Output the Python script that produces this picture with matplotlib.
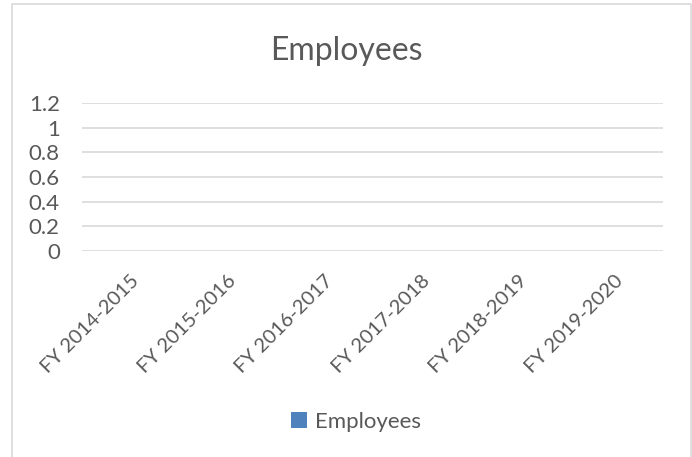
import matplotlib
matplotlib.use("Agg")
import matplotlib.pyplot as plt
from matplotlib.patches import Rectangle

categories = ["FY 2014-2015", "FY 2015-2016", "FY 2016-2017", "FY 2017-2018", "FY 2018-2019", "FY 2019-2020"]
employees = [0, 0, 0, 0, 0, 0]
yticks = [0, 0.2, 0.4, 0.6, 0.8, 1, 1.2]
ytick_labels = ["0", "0.2", "0.4", "0.6", "0.8", "1", "1.2"]
series_name = "Employees"
title = "Employees"

plt.rcParams['font.family'] = ['Lato', 'DejaVu Sans']
text_color = "#595959"
bar_color = "#4F81BD"

W, H = 692, 457
fig = plt.figure(figsize=(W / 100, H / 100), dpi=100)
fig.patch.set_facecolor("white")

# chart border
fig.patches.append(Rectangle((12 / W, -0.05), (691 - 12) / W, (457 - 4) / H + 0.05,
                             transform=fig.transFigure, fill=False,
                             edgecolor="#D9D9D9", linewidth=1.2))

ax = fig.add_axes([82 / W, (H - 251) / H, (663 - 82) / W, (251 - 103) / H])
x = list(range(len(categories)))
bars = ax.bar(x, employees, width=0.6, color=bar_color, label=series_name)
ax.set_xlim(-0.5, len(categories) - 0.5)
ax.set_ylim(0, 1.2)
ax.set_yticks(yticks)
ax.set_yticklabels(ytick_labels)
ax.set_xticks(x)
ax.set_xticklabels(categories, rotation=45, ha="right", va="top",
                   rotation_mode="anchor")
for s in ax.spines.values():
    s.set_visible(False)
ax.tick_params(axis="both", length=0, colors=text_color)
ax.tick_params(axis="y", pad=16, labelsize=16)
ax.tick_params(axis="x", pad=15, labelsize=14.5)
ax.grid(axis="y", color="#D9D9D9", linewidth=1.2)
ax.set_axisbelow(True)

fig.text(346 / W, (H - 51) / H, title, ha="center", va="center",
         fontsize=23, color=text_color)

leg = fig.legend(handles=[bars], labels=[series_name], loc="center",
                 bbox_to_anchor=(356 / W, (H - 422) / H), frameon=False,
                 fontsize=16, handlelength=0.75, handleheight=0.75,
                 handletextpad=0.35, labelcolor=text_color)

fig.savefig("out.png", dpi=100, facecolor="white")
